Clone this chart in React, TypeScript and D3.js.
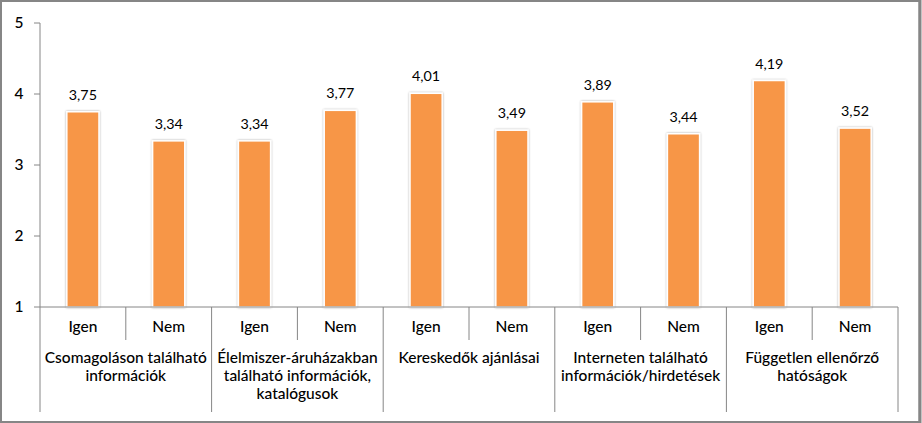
import React from "react";
import * as d3 from "d3";

const groups = [
  ["Csomagoláson található", "információk"],
  ["Élelmiszer-áruházakban", "található információk,", "katalógusok"],
  ["Kereskedők ajánlásai"],
  ["Interneten található", "információk/hirdetések"],
  ["Független ellenőrző", "hatóságok"],
];
const subCats = ["Igen", "Nem"];
const values = [3.75, 3.34, 3.34, 3.77, 4.01, 3.49, 3.89, 3.44, 4.19, 3.52];
const labels = ["3,75", "3,34", "3,34", "3,77", "4,01", "3,49", "3,89", "3,44", "4,19", "3,52"];
const yTicks = [1, 2, 3, 4, 5];

const W = 922, H = 423;
const left = 40, right = 898, top = 23, bottom = 307;
const font = "Lato, 'Open Sans', sans-serif";

export default function App() {
  const y = d3.scaleLinear().domain([1, 5]).range([bottom, top]);
  const keys = values.map((_, i) => String(i));
  const x = d3.scaleBand().domain(keys).range([left, right]).paddingInner(0).paddingOuter(0);
  const bw = x.bandwidth();
  const barW = bw * 0.375;
  const gx = d3.scaleBand().domain(groups.map((_, i) => String(i))).range([left, right]);
  return (
    <svg width={W} height={H} style={{ position: "absolute", left: 0, top: 0, display: "block" }}>
      <defs>
        <filter id="sh" x="-30%" y="-10%" width="160%" height="120%">
          <feGaussianBlur in="SourceAlpha" stdDeviation="1.2" />
          <feOffset dx="0" dy="0" result="b" />
          <feComponentTransfer><feFuncA type="linear" slope="0.35" /></feComponentTransfer>
          <feMerge><feMergeNode /><feMergeNode in="SourceGraphic" /></feMerge>
        </filter>
      </defs>
      <rect x={0} y={0} width={W} height={H} fill="#fff" />
      <rect x={1} y={1} width={W - 3.5} height={H - 2} fill="none" stroke="#868686" strokeWidth={2} />
      <line x1={W - 2} x2={W - 2} y1={0} y2={H} stroke="#868686" strokeWidth={3} />
      {/* y axis */}
      <line x1={left} x2={left} y1={top} y2={bottom} stroke="#868686" />
      {yTicks.map((t) => (
        <g key={t}>
          <line x1={left - 6} x2={left} y1={y(t)} y2={y(t)} stroke="#868686" />
          <text x={19} y={y(t)} dy="0.35em" textAnchor="middle" fontFamily={font} fontSize={15.5} fontWeight={500} fill="#000">{t}</text>
        </g>
      ))}
      {/* bars */}
      {values.map((v, i) => {
        const cx = (x(String(i)) as number) + bw / 2;
        return (
          <g key={i}>
            <rect x={cx - barW / 2} y={y(v)} width={barW} height={bottom - y(v)} fill="#F79646" stroke="#fff" strokeWidth={1.5} filter="url(#sh)" />
            <text x={cx} y={y(v) - 12} textAnchor="middle" fontFamily={font} fontSize={14.3} fill="#000">{labels[i]}</text>
          </g>
        );
      })}
      {/* category axis */}
      <line x1={left} x2={right} y1={bottom} y2={bottom} stroke="#868686" />
      {values.map((_, i) => {
        const x0 = x(String(i)) as number;
        return (
          <g key={i}>
            {i % 2 === 1 && <line x1={x0} x2={x0} y1={bottom} y2={340} stroke="#868686" />}
            <text x={x0 + bw / 2} y={327} dy="0.35em" textAnchor="middle" fontFamily={font} fontSize={15.5} fontWeight={500} fill="#000">{subCats[i % 2]}</text>
          </g>
        );
      })}
      {groups.map((g, gi) => {
        const x0 = gx(String(gi)) as number;
        return (
          <g key={gi}>
            <line x1={x0} x2={x0} y1={bottom} y2={412} stroke="#868686" />
            {g.map((ln, li) => (
              <text key={li} x={x0 + gx.bandwidth() / 2} y={358 + li * 18} dy="0.35em" textAnchor="middle" fontFamily={font} fontSize={15.5} fontWeight={500} fill="#000">{ln}</text>
            ))}
          </g>
        );
      })}
      <line x1={right} x2={right} y1={bottom} y2={412} stroke="#868686" />
    </svg>
  );
}
